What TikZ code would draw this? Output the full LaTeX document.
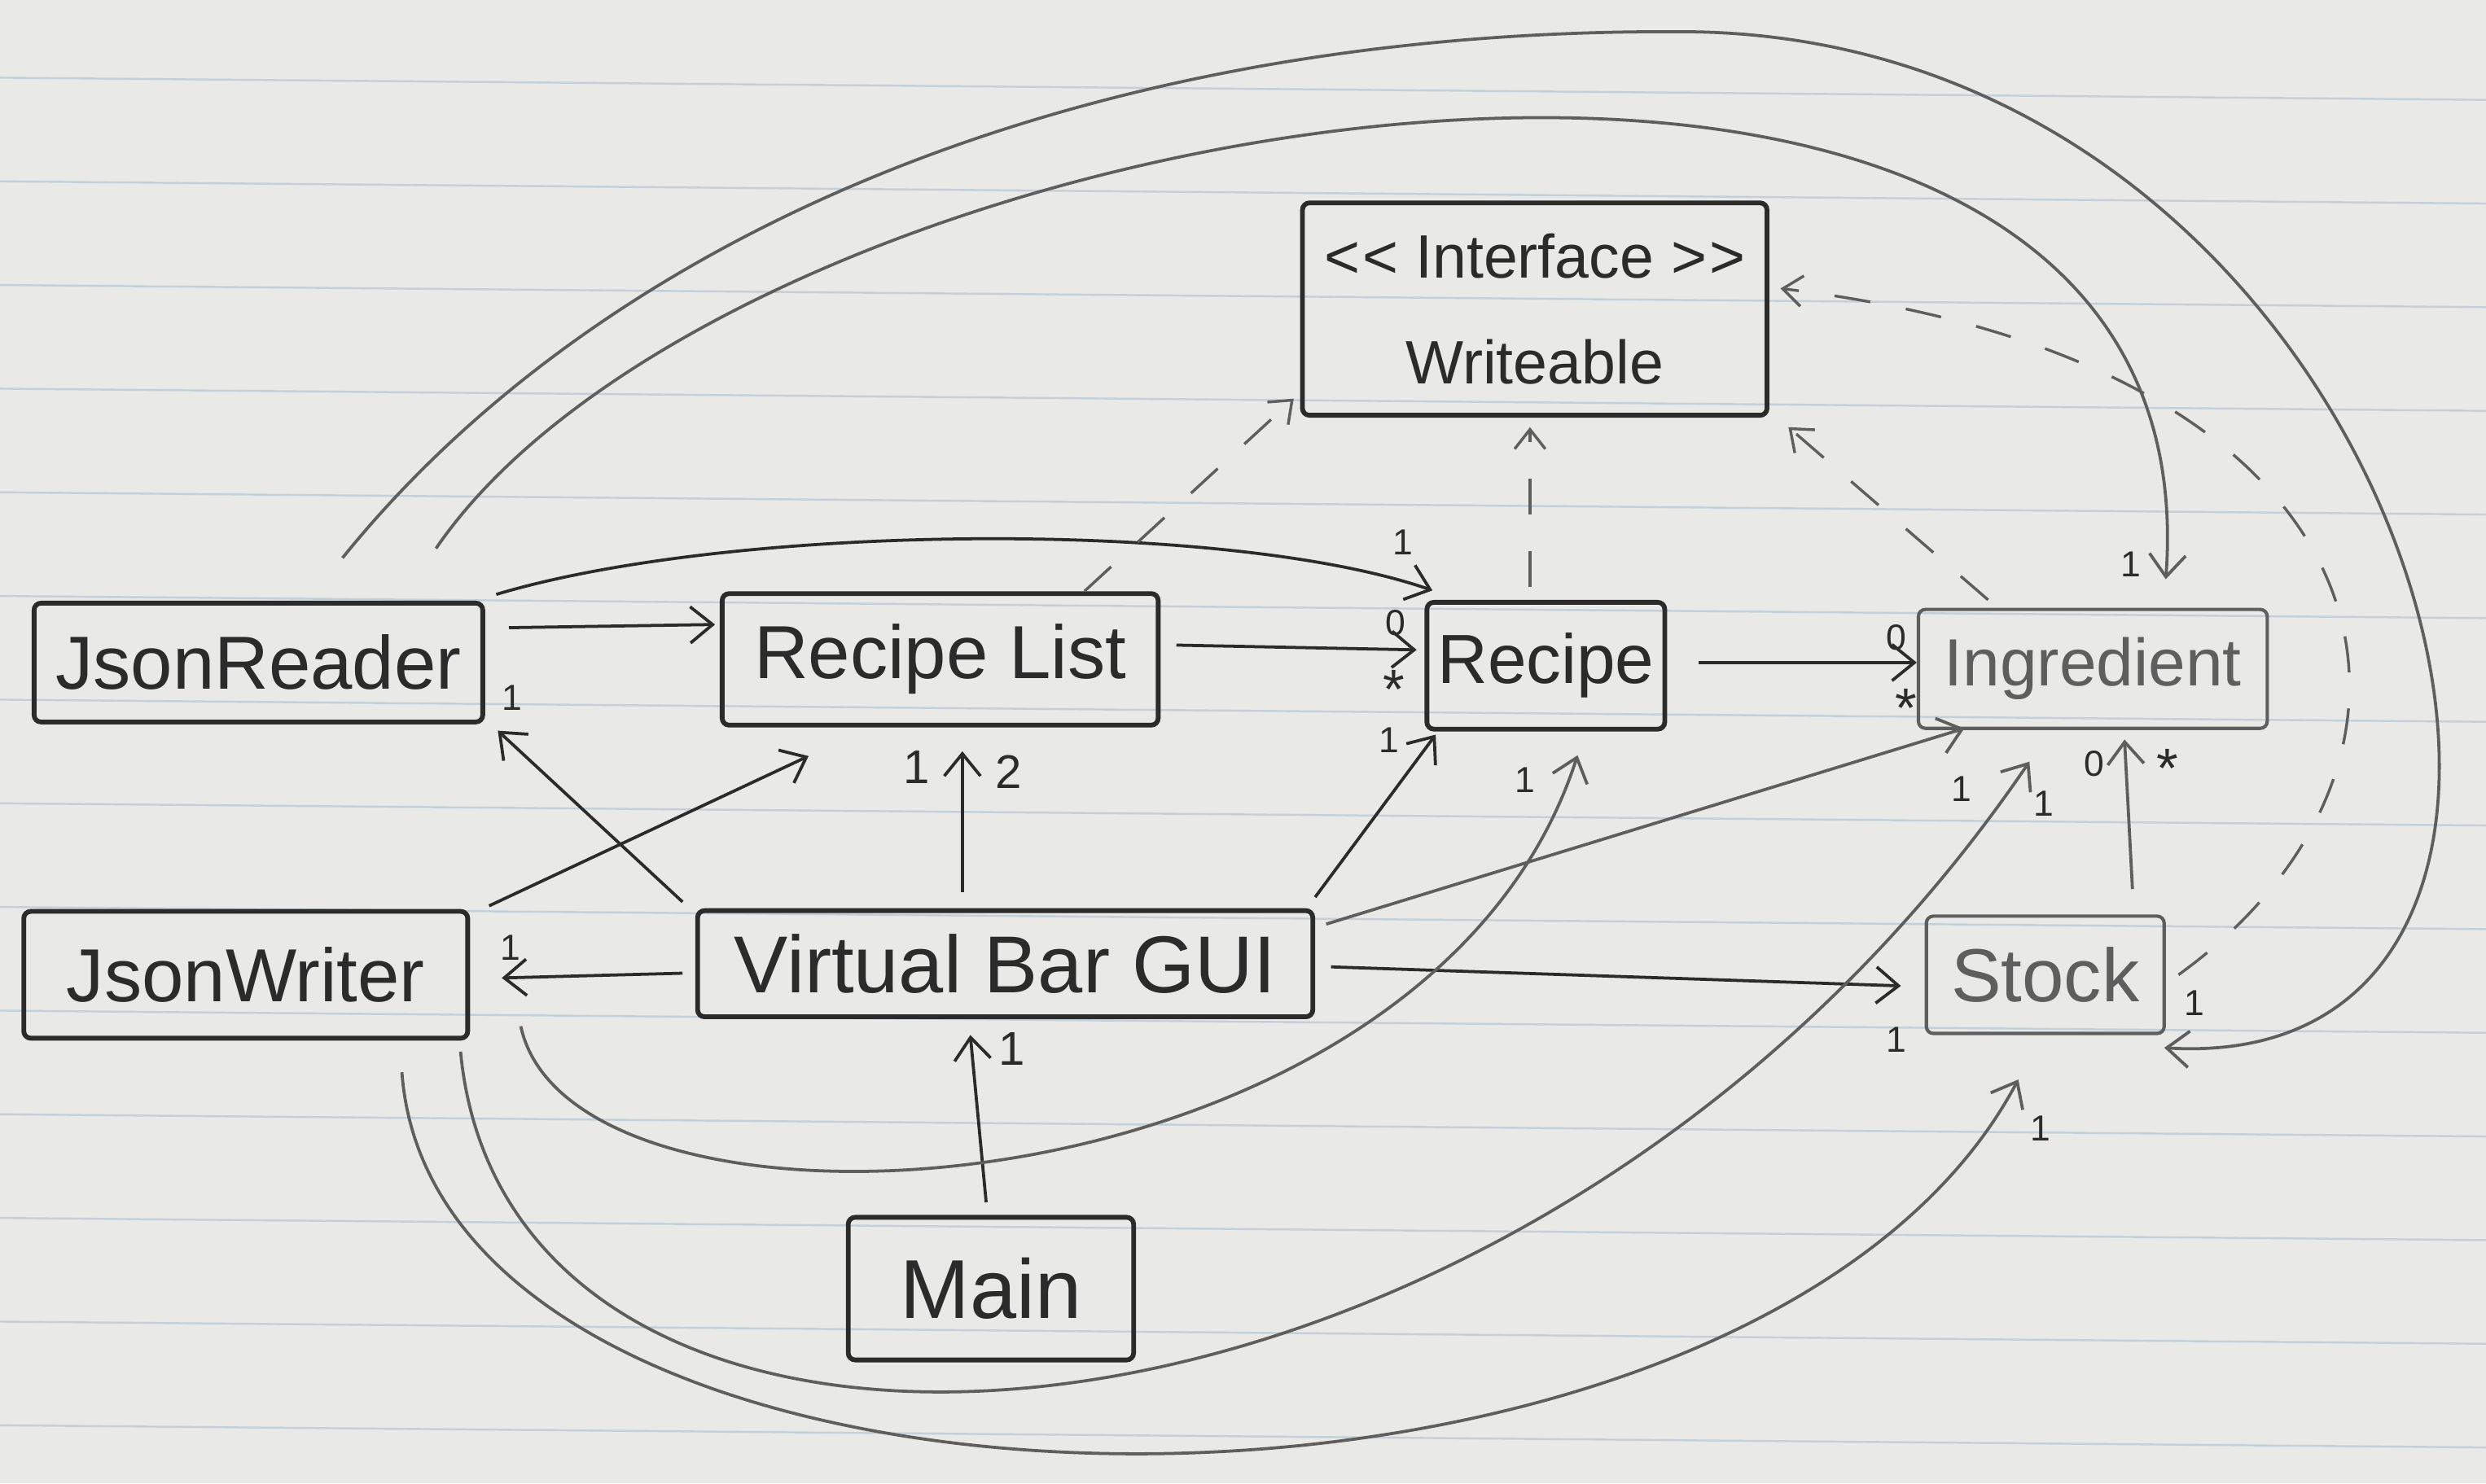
\documentclass[tikz,border=0pt]{standalone}
\usepackage{fontspec}
\setmainfont{Liberation Sans}
\usepackage{xcolor}
\definecolor{vbInk}{HTML}{2B2B2B}
\definecolor{vbGraphite}{HTML}{5E5E5E}
\definecolor{vbPaper}{HTML}{E9E9E7}
\definecolor{vbRule}{HTML}{C4CFD6}
\usepackage{tikz}
\usetikzlibrary{positioning,arrows.meta,calc}

\begin{document}
\begin{tikzpicture}[x=0.2mm,y=-0.2mm,
      every node/.style={text=vbInk},
      cls/.style={rectangle,rounded corners=2.5pt,draw=vbInk,line width=1.7pt,
                  inner sep=0pt,align=center,font=\fontsize{27}{32}\selectfont},
      faint/.style={draw=vbGraphite,text=vbGraphite,line width=1.2pt},
      assoc/.style={-{Straight Barb[length=8pt,width=13pt]},line width=1.1pt,vbInk},
      soft/.style={assoc,vbGraphite},
      real/.style={-{Straight Barb[length=7pt,width=11pt]},line width=1pt,vbGraphite,
                   dash pattern=on 13pt off 13pt},
      mult/.style={inner sep=0pt,font=\fontsize{13}{13}\selectfont},
      multbig/.style={inner sep=0pt,font=\fontsize{17}{17}\selectfont},
      many/.style={inner sep=0pt,font=\fontsize{20}{20}\selectfont,yshift=-4pt},
    ]

    \path[use as bounding box] (0,0) rectangle (1568,936);

    % lined paper
    \fill[vbPaper] (0,0) rectangle (1568,936);
    \foreach \ry in {55,120.4,...,910}
      \draw[vbRule,line width=0.7pt] (0,\ry-6) -- (1568,\ry+8);

    % the interface
    \node[cls,minimum width=58.6mm,minimum height=26.8mm,
          font=\fontsize{22}{38}\selectfont] (iface) at (968,195)
      {<\kern1pt< Interface >\kern1pt>\\Writeable};

    % top row: readers and the recipe classes
    \node[cls,minimum width=56.6mm,minimum height=15mm] (reader) at (163,418) {JsonReader};
    \node[cls,minimum width=55mm,minimum height=16.6mm] (rlist) at (593,416) {Recipe List};
    \node[cls,minimum width=30mm,minimum height=16mm,
          font=\fontsize{25}{30}\selectfont] (recipe) at (975,420) {Recipe};
    \node[cls,faint,minimum width=44mm,minimum height=15mm,
          font=\fontsize{24}{30}\selectfont] (ingr) at (1320,422) {Ingredient};

    % second row: writer, GUI and stock
    \node[cls,minimum width=56mm,minimum height=16mm] (writer) at (155,615) {JsonWriter};
    \node[cls,minimum width=77.6mm,minimum height=13.4mm,
          font=\fontsize{29}{32}\selectfont] (gui) at (634,608) {Virtual Bar GUI};
    \node[cls,faint,minimum width=30mm,minimum height=14.8mm] (stock) at (1290,615) {Stock};

    % entry point
    \node[cls,minimum width=36mm,minimum height=18mm,
          font=\fontsize{30}{34}\selectfont] (main) at (625,813) {Main};

    % straight associations
    \draw[assoc] ($(reader.east)+(15,-22)$) -- ($(rlist.west)+(-3,-22)$);
    \draw[assoc] ($(rlist.east)+(10,-9)$) -- ($(recipe.west)+(-5,-10)$);
    \draw[assoc] ($(recipe.east)+(20,-2)$) -- ($(ingr.west)+(0,-4)$);
    \draw[assoc] ($(gui.north)+(-27,-10)$) -- ($(rlist.south)+(14,15)$);
    \draw[assoc] ($(gui.north west)+(-8,-4)$) -- ($(reader.south east)+(8,4)$);
    \draw[assoc] ($(writer.north east)+(12,-2)$) -- ($(rlist.south)+(-83,18)$);
    \draw[assoc] ($(gui.west)+(-8,6)$) -- ($(writer.east)+(20,2)$);
    \draw[assoc] ($(main.north)+(-3,-8)$) -- ($(gui.south)+(-22,10)$);
    \draw[assoc] ($(gui.north east)+(0,-7)$) -- ($(recipe.south west)+(7,2)$);
    \draw[soft] ($(gui.north east)+(7,10)$) -- ($(ingr.south west)+(30,-1)$);
    \draw[assoc] ($(gui.east)+(10,2)$) -- ($(stock.west)+(-15,7)$);
    \draw[soft] ($(stock.north)+(55,-16)$) -- ($(ingr.south)+(20,6)$);

    % JsonReader arcs over the top
    \draw[assoc] ($(reader.north east)+(7,-4)$)
      .. controls +(150,-45) and +(-130,-45) .. ($(recipe.north west)+(5,-6)$);
    \draw[soft] ($(reader.north east)+(-31,-33)$)
      .. controls +(196,-287) and +(34,-457) .. ($(ingr.north)+(46,-18)$);
    \coordinate (loopTop) at (1060,20);
    \draw[soft] ($(reader.north)+(53,-27)$)
      .. controls +(164,-203) and +(-380,-2) .. (loopTop)
      .. controls +(470,0) and +(330,20) .. ($(stock.south east)+(-1,8)$);

    % JsonWriter arcs underneath
    \draw[soft] ($(writer.south east)+(32,-9)$)
      .. controls +(33,154) and +(-95,295) .. ($(recipe.south)+(20,15)$);
    \draw[soft] ($(writer.south east)+(-6,7)$)
      .. controls +(31,330) and +(-320,470) .. ($(ingr.south)+(-40,20)$);
    \draw[soft] ($(writer.south east)+(-43,20)$)
      .. controls +(23,315) and +(-170,320) .. ($(stock.south)+(-17,28)$);

    % realizations of Writeable
    \draw[real] ($(rlist.north)+(91,0)$) -- ($(iface.south west)+(-4,-12)$);
    \draw[real] ($(recipe.north)+(-10,-8)$) -- ($(iface.south)+(-3,6)$);
    \draw[real] ($(ingr.north west)+(45,-5)$) -- ($(iface.south east)+(12,6)$);
    \draw[real] ($(stock.east)+(8,0)$)
      .. controls +(187,-135) and +(398,48) .. ($(iface.east)+(7,-13)$);

    % multiplicities
    \node[mult] (mGuiReader) at (323,440) {1};
    \node[mult] (mListZero) at (880,393) {0};
    \node[many] (mListMany) at (879,428) {*};
    \node[mult] (mIngrZero) at (1196,402) {0};
    \node[many] (mIngrMany) at (1202,440) {*};
    \node[multbig] (mGuiListA) at (578,484) {1};
    \node[multbig] (mGuiListB) at (636,487) {2};
    \node[mult] (mGuiRecipe) at (876,467) {1};
    \node[mult] (mWriterRecipe) at (962,492) {1};
    \node[mult] (mGuiIngr) at (1237,498) {1};
    \node[mult] (mWriterIngr) at (1289,507) {1};
    \node[mult] (mStockZero) at (1321,482) {0};
    \node[many] (mStockMany) at (1367,478) {*};
    \node[mult] (mGuiWriter) at (322,598) {1};
    \node[mult] (mGuiStock) at (1196,656) {1};
    \node[multbig] (mMainGui) at (638,662) {1};
    \node[mult] (mWriterStock) at (1287,712) {1};
    \node[mult] (mReaderRecipe) at (885,342) {1};
    \node[mult] (mReaderIngr) at (1344,356) {1};
    \node[mult] (mStockIface) at (1384,633) {1};

  \end{tikzpicture}
\end{document}
